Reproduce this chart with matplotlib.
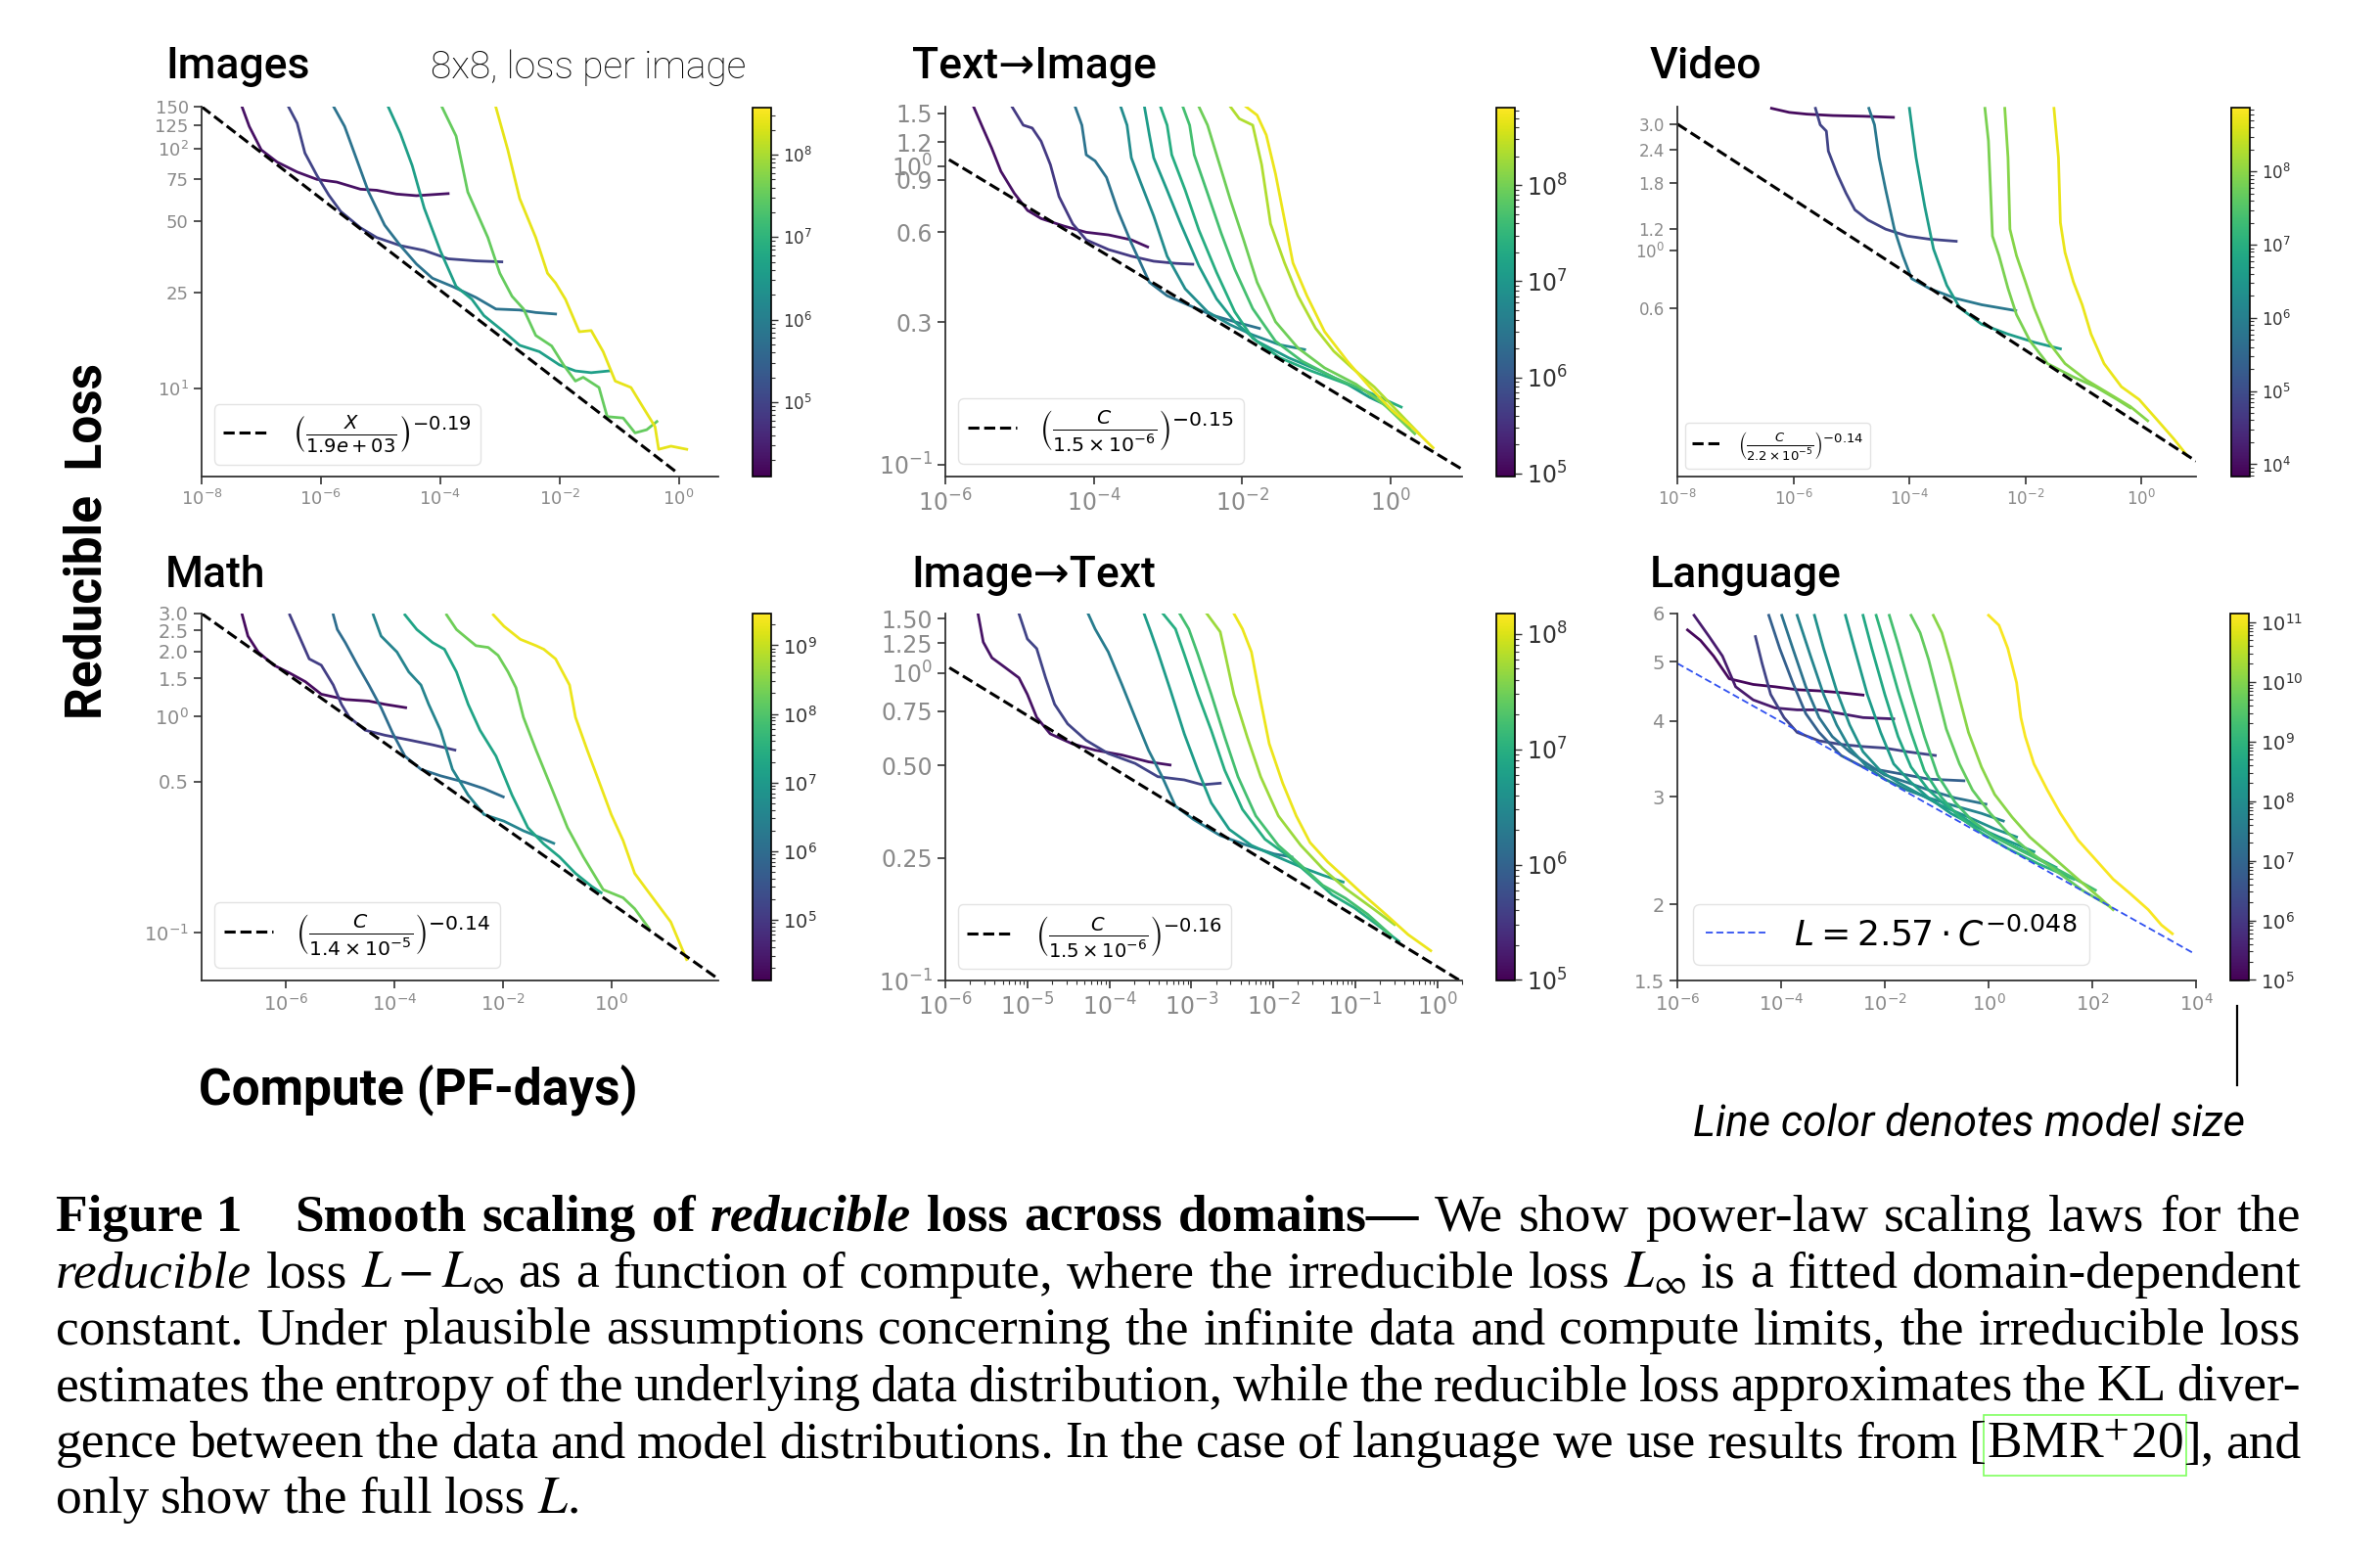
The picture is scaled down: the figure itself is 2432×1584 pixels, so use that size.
import matplotlib
matplotlib.use("Agg")
import matplotlib.pyplot as plt
from matplotlib.colors import LogNorm
from matplotlib.cm import ScalarMappable
from matplotlib.ticker import NullLocator, LogLocator
from matplotlib.lines import Line2D
from matplotlib.patches import Rectangle

# ---------------- data ----------------
# Images 8x8
images_size = [2.0e4, 1.0e5, 6.3e5, 4.0e6, 3.2e7, 2.5e8]
images_c = [
    [4.8e-8, 6.3e-8, 1e-7, 1.85e-7, 4e-7, 8.6e-7, 1.85e-6, 4.6e-6, 8.6e-6, 1.85e-5, 4e-5, 1.36e-4],
    [2.9e-7, 4e-7, 5.4e-7, 8.6e-7, 1.36e-6, 2.15e-6, 4.6e-6, 8.6e-6, 2.15e-5, 5.4e-5, 1.36e-4, 4e-4, 1.08e-3],
    [1.66e-6, 2.5e-6, 4e-6, 6.3e-6, 1.17e-5, 2.15e-5, 4e-5, 7.4e-5, 1.6e-4, 4e-4, 8.6e-4, 2.15e-3, 4e-3, 8.6e-3],
    [1.36e-5, 2.15e-5, 3.4e-5, 5.4e-5, 1e-4, 1.85e-4, 3.4e-4, 5.4e-4, 1.17e-3, 2.15e-3, 4.6e-3, 1e-2, 1.85e-2, 3.4e-2, 6.8e-2],
    [1.08e-4, 1.85e-4, 2.9e-4, 6.3e-4, 1e-3, 1.6e-3, 2.5e-3, 4e-3, 7.4e-3, 1.17e-2, 1.85e-2, 2.5e-2, 4.6e-2, 6.3e-2, 0.117, 0.185, 0.29, 0.43],
    [8.6e-4, 1.36e-3, 2.15e-3, 4e-3, 6.3e-3, 8.6e-3, 1.26e-2, 2.15e-2, 3.4e-2, 5.4e-2, 8.6e-2, 0.158, 0.25, 0.4, 0.46, 0.74, 1.36],
]
images_loss = [
    [149, 124, 99, 88, 80, 74.5, 72.6, 67.8, 67.1, 64.7, 63.7, 65],
    [149, 128, 96, 77.3, 64, 54.7, 46.8, 42.6, 39.4, 37.6, 34.7, 34, 33.7],
    [149, 124, 90, 66, 48, 39.4, 33, 28.8, 26.6, 23.9, 21.4, 21.2, 20.7, 20.4],
    [149, 116, 85, 56.5, 37.6, 26.6, 23.5, 20.1, 17.2, 15.1, 14.2, 12.5, 11.8, 11.6, 11.8],
    [149, 113, 66, 42.6, 30.2, 24.2, 21.4, 16.6, 15.0, 12.5, 10.7, 11.1, 10.06, 7.6, 7.5, 6.5, 6.7, 7.25],
    [149, 99, 62, 42.6, 30.2, 27.5, 23.5, 17.2, 17.4, 14.2, 10.7, 10.06, 8.34, 6.9, 5.55, 5.72, 5.55],
]
images_fit_c = [1e-8, 1.0]
images_fit_loss = [150, 4.38]

# Text -> Image
ti_size = [1.4e5, 4.2e5, 2.7e6, 6.5e6, 1.2e7, 2.2e7, 4.5e7, 9.1e7, 2.2e8, 4.9e8]
ti_c = [
    [2.4e-6, 3.2e-6, 4.2e-6, 5.6e-6, 8.5e-6, 1.28e-5, 1.95e-5, 3.9e-5, 7.9e-5, 1.58e-4, 3.2e-4, 5.3e-4],
    [7.9e-6, 1.12e-5, 1.48e-5, 1.95e-5, 2.6e-5, 3.4e-5, 5.2e-5, 7.9e-5, 1.58e-4, 3.2e-4, 6.4e-4, 1.28e-3, 2.15e-3],
    [5.6e-5, 6.9e-5, 7.9e-5, 1.04e-4, 1.48e-4, 2.1e-4, 3.2e-4, 5.6e-4, 9.7e-4, 1.95e-3, 3.9e-3, 7.9e-3, 1.7e-2],
    [2.3e-4, 2.8e-4, 3.2e-4, 4.2e-4, 6.4e-4, 9.7e-4, 1.7e-3, 3.4e-3, 6.9e-3, 1.38e-2, 3.2e-2, 6.9e-2],
    [4.8e-4, 5.6e-4, 6.4e-4, 9.7e-4, 1.48e-3, 2.6e-3, 4.5e-3, 7.9e-3, 1.58e-2, 4.2e-2, 0.112, 0.26, 0.52, 0.79],
    [7.9e-4, 9.7e-4, 1.12e-3, 1.7e-3, 2.6e-3, 4.5e-3, 7.9e-3, 1.38e-2, 3.2e-2, 8.5e-2, 0.195, 0.45, 1.38],
    [1.58e-3, 1.95e-3, 2.25e-3, 3.4e-3, 5.2e-3, 7.9e-3, 1.38e-2, 2.8e-2, 6.4e-2, 0.17, 0.45, 1.04, 1.82],
    [2.6e-3, 3.4e-3, 4.5e-3, 6.9e-3, 1.04e-2, 1.58e-2, 2.8e-2, 5.6e-2, 0.128, 0.34, 0.79, 2.1],
    [6.9e-3, 9.1e-3, 1.38e-2, 1.82e-2, 2.4e-2, 3.7e-2, 5.6e-2, 9.7e-2, 0.17, 0.3, 0.6, 1.2, 2.4],
    [1.12e-2, 1.58e-2, 2.1e-2, 2.8e-2, 3.7e-2, 4.8e-2, 7.4e-2, 0.128, 0.26, 0.52, 1.04, 2.1, 3.7],
]
ti_loss = [
    [1.58, 1.34, 1.15, 0.96, 0.81, 0.71, 0.667, 0.63, 0.60, 0.588, 0.566, 0.536],
    [1.58, 1.37, 1.34, 1.21, 1.01, 0.79, 0.64, 0.566, 0.525, 0.499, 0.48, 0.472, 0.469],
    [1.58, 1.37, 1.09, 1.04, 0.916, 0.71, 0.552, 0.408, 0.368, 0.341, 0.317, 0.301, 0.286],
    [1.58, 1.37, 1.065, 0.89, 0.68, 0.499, 0.388, 0.325, 0.294, 0.272, 0.252, 0.243],
    [1.58, 1.27, 1.065, 0.83, 0.64, 0.463, 0.359, 0.301, 0.259, 0.228, 0.206, 0.186, 0.168, 0.160],
    [1.58, 1.37, 1.09, 0.83, 0.61, 0.44, 0.325, 0.265, 0.228, 0.206, 0.191, 0.177, 0.156],
    [1.58, 1.37, 1.09, 0.81, 0.595, 0.451, 0.333, 0.259, 0.222, 0.196, 0.177, 0.152, 0.134],
    [1.58, 1.37, 1.09, 0.77, 0.566, 0.408, 0.301, 0.246, 0.211, 0.186, 0.160, 0.127],
    [1.58, 1.44, 1.37, 1.01, 0.64, 0.474, 0.368, 0.286, 0.240, 0.211, 0.182, 0.152, 0.127],
    [1.58, 1.48, 1.27, 0.94, 0.66, 0.474, 0.368, 0.279, 0.222, 0.182, 0.152, 0.131, 0.114],
]
ti_fit_c = [1.12e-6, 9.1]
ti_fit_loss = [1.05, 0.0966]

# Video
video_size = [9.5e3, 6.9e4, 7e5, 4e6, 7.2e7, 9e7, 5.2e8]
video_c = [
    [4.2e-7, 8.5e-7, 1.7e-6, 4.8e-6, 1.62e-5, 5.3e-5],
    [2.4e-6, 2.9e-6, 3.7e-6, 4.0e-6, 5.7e-6, 8.1e-6, 1.15e-5, 1.93e-5, 3.9e-5, 9.2e-5, 2.2e-4, 6.4e-4],
    [2.0e-5, 2.5e-5, 3.0e-5, 3.9e-5, 5.5e-5, 7.7e-5, 1.09e-4, 2.2e-4, 6.2e-4, 1.76e-3, 6.8e-3],
    [1.0e-4, 1.09e-4, 1.3e-4, 1.84e-4, 2.6e-4, 4.4e-4, 7.4e-4, 1.76e-3, 5.0e-3, 1.41e-2, 4.0e-2],
    [2.0e-3, 2.3e-3, 2.5e-3, 2.7e-3, 3.5e-3, 5.0e-3, 7.0e-3, 1.19e-2, 2.4e-2, 6.7e-2, 0.16, 0.38, 0.64],
    [4.4e-3, 5.0e-3, 5.4e-3, 7.0e-3, 1.0e-2, 1.41e-2, 2.4e-2, 4.8e-2, 0.113, 0.27, 0.64, 1.28],
    [3.1e-2, 3.7e-2, 4.0e-2, 4.8e-2, 6.7e-2, 9.5e-2, 0.135, 0.226, 0.45, 0.91, 1.82, 3.6, 6.1],
]
video_loss = [
    [3.44, 3.32, 3.27, 3.23, 3.21, 3.18],
    [3.44, 2.98, 2.82, 2.37, 1.94, 1.64, 1.42, 1.30, 1.20, 1.13, 1.10, 1.08],
    [3.44, 2.98, 2.24, 1.69, 1.20, 0.953, 0.78, 0.716, 0.657, 0.621, 0.59],
    [3.44, 2.98, 2.24, 1.46, 1.01, 0.736, 0.604, 0.524, 0.481, 0.448, 0.423],
    [3.44, 2.59, 1.69, 1.13, 0.953, 0.716, 0.57, 0.454, 0.372, 0.331, 0.304, 0.272, 0.253],
    [3.44, 2.24, 1.20, 0.953, 0.758, 0.604, 0.454, 0.372, 0.322, 0.287, 0.256, 0.226],
    [3.44, 2.24, 1.27, 0.98, 0.758, 0.621, 0.481, 0.372, 0.304, 0.272, 0.229, 0.193, 0.167],
]
video_fit_c = [1e-8, 8.7]
video_fit_loss = [3.0, 0.159]

# Math
math_size = [1.9e4, 1.2e5, 1e6, 3.3e6, 1.7e7, 1.9e8, 2e9]
math_c = [
    [1.57e-7, 2.0e-7, 3.1e-7, 6.0e-7, 1.18e-6, 2.3e-6, 4.5e-6, 1.25e-5, 3.4e-5, 6.7e-5, 1.62e-4],
    [1.18e-6, 1.66e-6, 2.7e-6, 4.5e-6, 7.5e-6, 1.06e-5, 1.48e-5, 2.9e-5, 6.7e-5, 1.85e-4, 5.1e-4, 1.31e-3],
    [7.5e-6, 8.9e-6, 1.25e-5, 2.1e-5, 3.4e-5, 5.7e-5, 9.4e-5, 1.57e-4, 3.1e-4, 7.1e-4, 1.96e-3, 4.5e-3, 1.02e-2],
    [4.1e-5, 5.7e-5, 1.12e-4, 1.85e-4, 3.1e-4, 4.3e-4, 7.1e-4, 1.18e-3, 2.3e-3, 4.5e-3, 1.05e-2, 2.4e-2, 4.8e-2, 8.7e-2],
    [1.57e-4, 2.6e-4, 5.1e-4, 8.4e-4, 1.4e-3, 2.3e-3, 3.8e-3, 7.5e-3, 1.48e-2, 2.9e-2, 5.7e-2, 0.111, 0.219, 0.43, 0.65],
    [9.2e-4, 1.4e-3, 2.3e-3, 3.2e-3, 5.4e-3, 8.2e-3, 1.25e-2, 1.75e-2, 2.4e-2, 4.1e-2, 8.0e-2, 0.156, 0.306, 0.71, 1.65, 2.7, 4.9],
    [6.7e-3, 1.05e-2, 2.1e-2, 4.1e-2, 5.7e-2, 9.4e-2, 0.17, 0.219, 0.36, 0.6, 1.0, 1.65, 2.7, 4.5, 7.5, 12.5, 24.5],
]
math_loss = [
    [2.96, 2.36, 1.99, 1.73, 1.59, 1.45, 1.27, 1.20, 1.18, 1.14, 1.10],
    [2.96, 2.44, 1.85, 1.73, 1.40, 1.14, 0.993, 0.865, 0.82, 0.78, 0.74, 0.70],
    [2.96, 2.53, 2.20, 1.73, 1.40, 1.10, 0.835, 0.656, 0.57, 0.532, 0.497, 0.464, 0.425],
    [2.96, 2.36, 1.99, 1.61, 1.40, 1.14, 0.865, 0.57, 0.433, 0.352, 0.328, 0.296, 0.276, 0.259],
    [2.96, 2.53, 2.20, 2.05, 1.61, 1.14, 0.865, 0.656, 0.433, 0.306, 0.257, 0.224, 0.188, 0.164, 0.153],
    [2.96, 2.53, 2.28, 2.13, 2.09, 1.92, 1.61, 1.36, 0.993, 0.70, 0.464, 0.306, 0.224, 0.158, 0.145, 0.129, 0.105],
    [2.96, 2.62, 2.28, 2.13, 2.05, 1.85, 1.40, 0.993, 0.70, 0.497, 0.352, 0.267, 0.188, 0.158, 0.133, 0.112, 0.075],
]
math_fit_c = [2.8e-8, 94]
math_fit_loss = [3.0, 0.061]

# Image -> Text
it_size = [1.4e5, 4.3e5, 2.1e6, 5.5e6, 9.3e6, 1.7e7, 5e7, 1.2e8]
it_c = [
    [2.5e-6, 2.9e-6, 3.7e-6, 5.4e-6, 7.9e-6, 1.0e-5, 1.3e-5, 1.9e-5, 3.5e-5, 6.7e-5, 1.42e-4, 3.0e-4, 5.5e-4],
    [7.9e-6, 1.0e-5, 1.3e-5, 1.67e-5, 2.15e-5, 3.1e-5, 5.2e-5, 9.7e-5, 2.06e-4, 3.9e-4, 8.2e-4, 1.36e-3, 2.25e-3],
    [5.5e-5, 6.7e-5, 9.7e-5, 1.42e-4, 2.06e-4, 3.0e-4, 4.4e-4, 6.4e-4, 1.06e-3, 2.25e-3, 4.8e-3, 1.02e-2, 1.68e-2],
    [2.65e-4, 3.2e-4, 3.9e-4, 5.6e-4, 8.2e-4, 1.2e-3, 1.75e-3, 2.9e-3, 5.4e-3, 1.02e-2, 2.16e-2, 4.0e-2, 7.1e-2],
    [4.5e-4, 6.4e-4, 8.2e-4, 1.2e-3, 1.75e-3, 2.55e-3, 4.2e-3, 7.9e-3, 1.48e-2, 2.8e-2, 5.2e-2, 9.8e-2, 0.183, 0.34],
    [7.2e-4, 9.3e-4, 1.2e-3, 1.75e-3, 2.55e-3, 3.7e-3, 6.1e-3, 1.15e-2, 2.16e-2, 4.0e-2, 7.6e-2, 0.142, 0.267],
    [1.54e-3, 2.25e-3, 2.55e-3, 3.3e-3, 4.8e-3, 7.0e-3, 1.15e-2, 2.16e-2, 4.0e-2, 7.6e-2, 0.161, 0.30],
    [3.3e-3, 4.2e-3, 5.4e-3, 7.0e-3, 8.9e-3, 1.3e-2, 1.9e-2, 2.8e-2, 4.6e-2, 7.6e-2, 0.125, 0.235, 0.44, 0.83],
]
it_loss = [
    [1.56, 1.26, 1.12, 1.04, 0.964, 0.852, 0.717, 0.634, 0.589, 0.561, 0.541, 0.514, 0.502],
    [1.56, 1.29, 1.20, 0.964, 0.791, 0.683, 0.604, 0.547, 0.508, 0.460, 0.449, 0.433, 0.438],
    [1.56, 1.39, 1.17, 0.918, 0.717, 0.561, 0.460, 0.369, 0.334, 0.296, 0.275, 0.258, 0.252],
    [1.56, 1.36, 1.17, 0.873, 0.634, 0.483, 0.378, 0.31, 0.275, 0.255, 0.234, 0.22, 0.209],
    [1.56, 1.39, 1.15, 0.852, 0.65, 0.483, 0.36, 0.288, 0.255, 0.22, 0.19, 0.172, 0.152, 0.134],
    [1.56, 1.39, 1.15, 0.852, 0.619, 0.46, 0.343, 0.275, 0.237, 0.204, 0.185, 0.164, 0.141],
    [1.56, 1.36, 1.17, 0.852, 0.619, 0.46, 0.343, 0.275, 0.231, 0.199, 0.172, 0.152],
    [1.56, 1.39, 1.17, 0.811, 0.589, 0.438, 0.343, 0.281, 0.243, 0.215, 0.19, 0.164, 0.141, 0.125],
]
it_fit_c = [1.12e-6, 2.0]
it_fit_loss = [1.04, 0.099]

# Language (full loss)
lang_size = [1.3e5, 2.7e5, 1.7e6, 7e6, 2.2e7, 5.9e7, 1.2e8, 2.4e8, 4.9e8, 1e9, 2e9, 4.7e9, 1.1e10, 1.2e11]
lang_c = [
    [1.57e-6, 2.8e-6, 5.0e-6, 1.0e-5, 2.9e-5, 7.7e-5, 2.04e-4, 5.4e-4, 1.43e-3, 3.8e-3],
    [2.1e-6, 4.1e-6, 7.4e-6, 1.33e-5, 2.9e-5, 7.7e-5, 2.04e-4, 5.4e-4, 1.43e-3, 3.8e-3, 1.48e-2],
    [3.2e-5, 4.3e-5, 6.3e-5, 1.14e-4, 2.04e-4, 5.4e-4, 1.43e-3, 3.8e-3, 1.0e-2, 2.7e-2, 9.4e-2],
    [5.8e-5, 9.4e-5, 1.68e-4, 3.0e-4, 5.4e-4, 1.43e-3, 3.8e-3, 1.0e-2, 2.7e-2, 7.0e-2, 0.335],
    [1.03e-4, 1.68e-4, 3.0e-4, 5.4e-4, 9.7e-4, 2.1e-3, 4.6e-3, 1.0e-2, 2.7e-2, 7.0e-2, 0.227, 0.89],
    [2.04e-4, 3.7e-4, 6.6e-4, 1.18e-3, 2.1e-3, 4.6e-3, 1.0e-2, 2.7e-2, 7.0e-2, 0.227, 0.73, 1.93],
    [4.4e-4, 6.6e-4, 1.18e-3, 2.1e-3, 3.8e-3, 8.3e-3, 1.8e-2, 4.8e-2, 0.126, 0.41, 1.31, 3.47],
    [1.74e-3, 2.6e-3, 4.6e-3, 8.3e-3, 1.48e-2, 3.2e-2, 7.0e-2, 0.187, 0.49, 1.59, 7.5],
    [3.8e-3, 5.6e-3, 1.0e-2, 1.8e-2, 3.2e-2, 7.0e-2, 0.153, 0.41, 1.31, 5.1, 20],
    [6.8e-3, 1.0e-2, 1.8e-2, 3.2e-2, 5.8e-2, 0.126, 0.275, 0.73, 2.35, 9.2, 43.6],
    [1.22e-2, 1.8e-2, 3.2e-2, 5.8e-2, 0.104, 0.227, 0.49, 1.31, 3.47, 13.6, 64, 115],
    [3.2e-2, 4.8e-2, 7.0e-2, 0.104, 0.153, 0.275, 0.49, 1.08, 2.35, 6.2, 20, 64, 207],
    [8.6e-2, 0.126, 0.187, 0.275, 0.41, 0.73, 1.31, 2.85, 6.2, 16.5, 53, 140, 252],
    [1.0, 1.59, 2.35, 3.47, 4.2, 5.1, 7.5, 13.6, 24.3, 53, 115, 252, 548, 1200, 2150, 3500],
]
lang_loss = [
    [5.64, 5.42, 5.11, 4.69, 4.59, 4.55, 4.50, 4.48, 4.45, 4.41],
    [5.96, 5.50, 5.11, 4.55, 4.33, 4.20, 4.17, 4.17, 4.11, 4.05, 4.03],
    [5.50, 4.97, 4.42, 4.05, 3.83, 3.71, 3.66, 3.63, 3.61, 3.56, 3.51],
    [5.96, 5.26, 4.62, 4.11, 3.83, 3.51, 3.36, 3.31, 3.26, 3.21, 3.19],
    [5.96, 5.26, 4.55, 4.05, 3.77, 3.56, 3.40, 3.26, 3.17, 3.08, 2.99, 2.92],
    [5.96, 5.11, 4.42, 3.94, 3.61, 3.36, 3.21, 3.08, 2.99, 2.90, 2.82, 2.74],
    [5.96, 5.26, 4.48, 3.94, 3.56, 3.31, 3.17, 3.03, 2.90, 2.78, 2.66, 2.58],
    [5.96, 5.26, 4.42, 3.83, 3.40, 3.17, 2.99, 2.82, 2.70, 2.58, 2.44],
    [5.96, 5.26, 4.42, 3.77, 3.36, 3.08, 2.90, 2.74, 2.58, 2.44, 2.30],
    [5.96, 5.34, 4.48, 3.83, 3.31, 2.99, 2.78, 2.62, 2.47, 2.33, 2.20],
    [5.96, 5.34, 4.48, 3.77, 3.26, 2.94, 2.74, 2.58, 2.47, 2.33, 2.17, 2.11],
    [5.96, 5.58, 5.04, 4.42, 3.88, 3.40, 3.08, 2.82, 2.62, 2.44, 2.27, 2.11, 1.99],
    [5.96, 5.58, 4.97, 4.36, 3.83, 3.36, 3.03, 2.78, 2.58, 2.40, 2.20, 2.05, 1.96],
    [5.96, 5.74, 5.26, 4.62, 4.05, 3.77, 3.40, 3.08, 2.82, 2.55, 2.37, 2.20, 2.08, 1.96, 1.85, 1.79],
]
lang_fit_c = [1e-6, 9300]
lang_fit_loss = [4.97, 1.66]

# ---------------- figure ----------------
W, H = 2432, 1584
fig = plt.figure(figsize=(W / 100, H / 100), dpi=100, facecolor='white')
cmap = plt.cm.viridis
TICK_GRAY = '#8a8a8a'


def box(x0, y0, x1, y1):
    # pixel box (top-left origin) -> figure fraction rect
    return [x0 / W, 1 - y1 / H, (x1 - x0) / W, (y1 - y0) / H]


def draw_panel(pos, cpos, sizes, comp, loss, vlim, fit_c, fit_l, fit_label,
               xlim, ylim, xexp, yvals, ylabs, tick_fs, cbar_fs, leg_fs,
               fit_color='k', fit_ls='--', fit_lw=2.2, minor_x=False):
    ax = fig.add_axes(pos)
    norm = LogNorm(*vlim)
    for s, c, l in zip(sizes, comp, loss):
        ax.plot(c, l, color=cmap(norm(s)), lw=2.0)
    ax.plot(fit_c, fit_l, color=fit_color, ls=fit_ls, lw=fit_lw, label=fit_label)
    ax.set_xscale('log')
    ax.set_yscale('log')
    ax.set_xlim(xlim)
    ax.set_ylim(ylim)
    ax.set_xticks([10.0 ** e for e in xexp], [rf'$10^{{{e}}}$' for e in xexp])
    ax.set_yticks(yvals, ylabs)
    ax.yaxis.set_minor_locator(NullLocator())
    if minor_x:
        ax.xaxis.set_minor_locator(LogLocator(subs=range(2, 10)))
    else:
        ax.xaxis.set_minor_locator(NullLocator())
    ax.tick_params(which='major', length=6, width=1.2, color='#333333',
                   labelcolor=TICK_GRAY, labelsize=tick_fs)
    ax.tick_params(which='minor', length=3, width=0.8, color='#333333')
    for side in ('top', 'right'):
        ax.spines[side].set_visible(False)
    for side in ('left', 'bottom'):
        ax.spines[side].set_color('#333333')
        ax.spines[side].set_linewidth(1.3)
    leg = ax.legend(loc='lower left', fontsize=leg_fs, handlelength=1.7,
                    borderpad=0.35, borderaxespad=0.45, handletextpad=0.8)
    leg.get_frame().set_edgecolor('#dcdcdc')

    cax = fig.add_axes(cpos)
    cb = fig.colorbar(ScalarMappable(norm=norm, cmap=cmap), cax=cax)
    cb.ax.tick_params(which='major', labelsize=cbar_fs, colors='#333333', length=5, width=1)
    cb.ax.tick_params(which='minor', length=3, width=0.8, colors='#333333')
    cb.outline.set_linewidth(1.2)
    return ax


# row 1
draw_panel(box(206, 109, 734, 487), box(769, 110, 788, 487),
           images_size, images_c, images_loss, (1.26e4, 3.7e8),
           images_fit_c, images_fit_loss, r'$\left(\frac{X}{1.9e+03}\right)^{-0.19}$',
           (1e-8, 4.6), (4.27, 150), [-8, -6, -4, -2, 0],
           [150, 125, 100, 75, 50, 25, 10],
           ['150', '125', r'$10^{2}$', '75', '50', '25', r'$10^{1}$'], 13, 12, 20)
draw_panel(box(966, 109, 1494, 487), box(1529, 110, 1548, 487),
           ti_size, ti_c, ti_loss, (9.3e4, 6.4e8),
           ti_fit_c, ti_fit_loss, r'$\left(\frac{C}{1.5\times10^{-6}}\right)^{-0.15}$',
           (1e-6, 9.1), (0.0913, 1.58), [-6, -4, -2, 0],
           [1.5, 1.2, 1.0, 0.9, 0.6, 0.3, 0.1],
           ['1.5', '1.2', r'$10^{0}$', '0.9', '0.6', '0.3', r'$10^{-1}$'], 17, 17, 21)
draw_panel(box(1714, 109, 2244, 487), box(2280, 110, 2299, 487),
           video_size, video_c, video_loss, (6.8e3, 7.5e8),
           video_fit_c, video_fit_loss, r'$\left(\frac{C}{2.2\times10^{-5}}\right)^{-0.14}$',
           (1e-8, 8.7), (0.139, 3.49), [-8, -6, -4, -2, 0],
           [3.0, 2.4, 1.8, 1.2, 1.0, 0.6],
           ['3.0', '2.4', '1.8', '1.2', r'$10^{0}$', '0.6'], 12, 12, 13.5)
# row 2
draw_panel(box(206, 627, 734, 1002), box(769, 627, 788, 1002),
           math_size, math_c, math_loss, (1.3e4, 2.9e9),
           math_fit_c, math_fit_loss, r'$\left(\frac{C}{1.4\times10^{-5}}\right)^{-0.14}$',
           (2.8e-8, 94), (0.060, 3.0), [-6, -4, -2, 0],
           [3.0, 2.5, 2.0, 1.5, 1.0, 0.5, 0.1],
           ['3.0', '2.5', '2.0', '1.5', r'$10^{0}$', '0.5', r'$10^{-1}$'], 14, 14, 21)
draw_panel(box(966, 627, 1494, 1002), box(1529, 627, 1548, 1002),
           it_size, it_c, it_loss, (9.9e4, 1.5e8),
           it_fit_c, it_fit_loss, r'$\left(\frac{C}{1.5\times10^{-6}}\right)^{-0.16}$',
           (1e-6, 2.0), (0.1, 1.56), [-6, -5, -4, -3, -2, -1, 0],
           [1.5, 1.25, 1.0, 0.75, 0.5, 0.25, 0.1],
           ['1.50', '1.25', r'$10^{0}$', '0.75', '0.50', '0.25', r'$10^{-1}$'], 17, 17, 20,
           minor_x=True)
draw_panel(box(1714, 627, 2244, 1002), box(2279, 627, 2298, 1002),
           lang_size, lang_c, lang_loss, (9.8e4, 1.4e11),
           lang_fit_c, lang_fit_loss, r'$L = 2.57 \cdot C^{-0.048}$',
           (1e-6, 1e4), (1.5, 6), [-6, -4, -2, 0, 2, 4],
           [6, 5, 4, 3, 2, 1.5], ['6', '5', '4', '3', '2', '1.5'], 14, 14, 26,
           fit_color='#3050f0', fit_ls=(0, (4, 2)), fit_lw=1.3)

# panel titles
title_kw = dict(fontsize=32, family=['Roboto', 'DejaVu Sans'], weight='medium',
                va='baseline', ha='left')
fig.text(169 / W, 1 - 80 / H, 'Images', **title_kw)
fig.text(932 / W, 1 - 80 / H, 'Text\u2192Image', **title_kw)
fig.text(1686 / W, 1 - 80 / H, 'Video', **title_kw)
fig.text(169 / W, 1 - 600 / H, 'Math', **title_kw)
fig.text(931 / W, 1 - 600 / H, 'Image\u2192Text', **title_kw)
fig.text(1686 / W, 1 - 600 / H, 'Language', **title_kw)
fig.text(440 / W, 1 - 80 / H, '8x8, loss per image', fontsize=28, family='Roboto',
         weight='light', va='baseline', ha='left')

fig.text(90 / W, 1 - 553 / H, 'Reducible  Loss', rotation=90, fontsize=37,
         family='Roboto', weight='bold', ha='center', va='center')
fig.text(427 / W, 1 - 1114 / H, 'Compute (PF-days)', fontsize=37,
         family='Roboto', weight='bold', ha='center', va='center')
fig.text(2012 / W, 1 - 1149 / H, 'Line color denotes model size', fontsize=31.5,
         family='Roboto', style='italic', ha='center', va='center')
fig.add_artist(Line2D([2286 / W, 2286 / W], [1 - 1028 / H, 1 - 1109 / H],
                      color='black', lw=1.6, transform=fig.transFigure))

# ---------------- caption (justified) ----------------
CAP_FS = 38.5
CAP_FONT = 'Liberation Serif'
CAP_L, CAP_R = 57, 2351
STYLES = {'r': dict(weight='normal', style='normal'),
          'b': dict(weight='bold', style='normal'),
          'i': dict(weight='normal', style='italic'),
          'bi': dict(weight='bold', style='italic')}


def words(text, st='r'):
    return [[(w, st)] for w in text.split()]


caption = [
    [[('Figure 1', 'b')]] + words('Smooth scaling of', 'b') + words('reducible', 'bi')
    + words('loss across domains\u2014', 'b') + words('We show power-law scaling laws for the'),
    words('reducible', 'i') + words('loss') + [[(r'$L - L_\infty$', 'r')]]
    + words('as a function of compute, where the irreducible loss') + [[(r'$L_\infty$', 'r')]]
    + words('is a fitted domain-dependent'),
    words('constant.  Under plausible assumptions concerning the infinite data and compute limits, the irreducible loss'),
    words('estimates the entropy of the underlying data distribution, while the reducible loss approximates the KL diver-'),
    words('gence between the data and model distributions. In the case of language we use results from')
    + [[('[', 'r'), (r'BMR$^{+}$20', 'r'), ('],', 'r')]] + words('and'),
    words('only show the full loss') + [[(r'$L$.', 'r')]],
]
baselines = [1258, 1316, 1373, 1431, 1489, 1546]
FIRST_GAP = 54  # wide space after "Figure 1"

renderer = fig.canvas.get_renderer()
placed = []
for li, (line, yb) in enumerate(zip(caption, baselines)):
    objs = []
    for word in line:
        parts = []
        for txt, st in word:
            t = fig.text(0, 1 - yb / H, txt, fontsize=CAP_FS, family=CAP_FONT,
                         math_fontfamily='stix', va='baseline', ha='left', **STYLES[st])
            parts.append([t, t.get_window_extent(renderer).width])
        objs.append(parts)
    widths = [sum(p[1] for p in parts) for parts in objs]
    gaps = [None] * (len(objs) - 1)
    if li == 0:
        gaps[0] = FIRST_GAP
    if li < len(caption) - 1:
        free = [i for i, g in enumerate(gaps) if g is None]
        fixed = sum(g for g in gaps if g is not None)
        g = (CAP_R - CAP_L - sum(widths) - fixed) / len(free)
        gaps = [g if v is None else v for v in gaps]
    else:
        gaps = [12] * len(gaps)
    x = CAP_L
    for i, parts in enumerate(objs):
        for t, w in parts:
            t.set_x(x / W)
            x += w
        if i < len(gaps):
            x += gaps[i]
    placed.append(objs)

# hyperlink box around the citation
cite = placed[4][-2][1][0]
bb = cite.get_window_extent(renderer)
fig.add_artist(Rectangle(((bb.x0 - 3) / W, (bb.y0 - 8) / H), (bb.width + 6) / W,
                         (bb.height + 14) / H, transform=fig.transFigure,
                         fill=False, edgecolor='#80ff60', lw=1.2))

fig.savefig('out.png', dpi=100, facecolor='white')
